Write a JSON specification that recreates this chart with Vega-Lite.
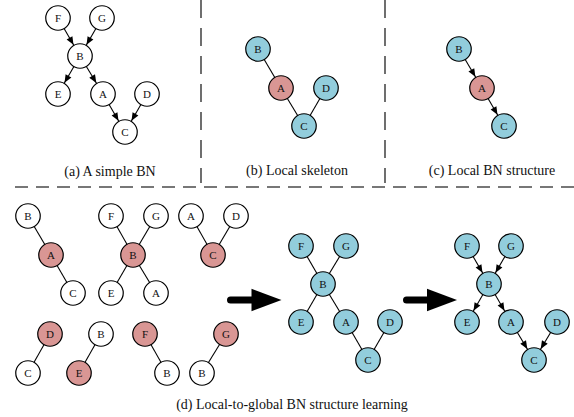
{
  "$schema": "https://vega.github.io/schema/vega-lite/v6.json",
  "width": 574,
  "height": 417,
  "padding": 0,
  "autosize": {"type": "none"},
  "background": "white",
  "config": {"view": {"stroke": null}},
  "datasets": {
    "nodes": [
      {"label": "F", "x": 58, "y": 18, "role": "plain"},
      {"label": "G", "x": 102, "y": 18, "role": "plain"},
      {"label": "B", "x": 80, "y": 56, "role": "plain"},
      {"label": "E", "x": 58, "y": 94, "role": "plain"},
      {"label": "A", "x": 103, "y": 94, "role": "plain"},
      {"label": "D", "x": 147, "y": 94, "role": "plain"},
      {"label": "C", "x": 125, "y": 132, "role": "plain"},
      {"label": "B", "x": 258, "y": 49, "role": "learned"},
      {"label": "A", "x": 281, "y": 88, "role": "target"},
      {"label": "D", "x": 326, "y": 88, "role": "learned"},
      {"label": "C", "x": 304, "y": 126, "role": "learned"},
      {"label": "B", "x": 459, "y": 49, "role": "learned"},
      {"label": "A", "x": 482, "y": 88, "role": "target"},
      {"label": "C", "x": 504, "y": 126, "role": "learned"},
      {"label": "B", "x": 28, "y": 216, "role": "plain"},
      {"label": "A", "x": 51, "y": 255, "role": "target"},
      {"label": "C", "x": 73, "y": 293, "role": "plain"},
      {"label": "F", "x": 111, "y": 216, "role": "plain"},
      {"label": "G", "x": 156, "y": 216, "role": "plain"},
      {"label": "B", "x": 133, "y": 255, "role": "target"},
      {"label": "E", "x": 111, "y": 293, "role": "plain"},
      {"label": "A", "x": 156, "y": 293, "role": "plain"},
      {"label": "A", "x": 191, "y": 216, "role": "plain"},
      {"label": "D", "x": 236, "y": 216, "role": "plain"},
      {"label": "C", "x": 213, "y": 255, "role": "target"},
      {"label": "D", "x": 50, "y": 334, "role": "target"},
      {"label": "C", "x": 28, "y": 373, "role": "plain"},
      {"label": "B", "x": 101, "y": 334, "role": "plain"},
      {"label": "E", "x": 79, "y": 373, "role": "target"},
      {"label": "F", "x": 145, "y": 334, "role": "target"},
      {"label": "B", "x": 167, "y": 373, "role": "plain"},
      {"label": "G", "x": 226, "y": 334, "role": "target"},
      {"label": "B", "x": 202, "y": 373, "role": "plain"},
      {"label": "F", "x": 301, "y": 246, "role": "learned"},
      {"label": "G", "x": 346, "y": 246, "role": "learned"},
      {"label": "B", "x": 323, "y": 284, "role": "learned"},
      {"label": "E", "x": 301, "y": 322, "role": "learned"},
      {"label": "A", "x": 346, "y": 322, "role": "learned"},
      {"label": "D", "x": 390, "y": 322, "role": "learned"},
      {"label": "C", "x": 368, "y": 360, "role": "learned"},
      {"label": "F", "x": 467, "y": 246, "role": "learned"},
      {"label": "G", "x": 511, "y": 246, "role": "learned"},
      {"label": "B", "x": 489, "y": 284, "role": "learned"},
      {"label": "E", "x": 467, "y": 322, "role": "learned"},
      {"label": "A", "x": 511, "y": 322, "role": "learned"},
      {"label": "D", "x": 557, "y": 322, "role": "learned"},
      {"label": "C", "x": 534, "y": 360, "role": "learned"}
    ],
    "edges": [
      {"x": 58, "y": 18, "x2": 80, "y2": 56},
      {"x": 102, "y": 18, "x2": 80, "y2": 56},
      {"x": 80, "y": 56, "x2": 58, "y2": 94},
      {"x": 80, "y": 56, "x2": 103, "y2": 94},
      {"x": 103, "y": 94, "x2": 125, "y2": 132},
      {"x": 147, "y": 94, "x2": 125, "y2": 132},
      {"x": 258, "y": 49, "x2": 281, "y2": 88},
      {"x": 281, "y": 88, "x2": 304, "y2": 126},
      {"x": 326, "y": 88, "x2": 304, "y2": 126},
      {"x": 459, "y": 49, "x2": 482, "y2": 88},
      {"x": 482, "y": 88, "x2": 504, "y2": 126},
      {"x": 28, "y": 216, "x2": 51, "y2": 255},
      {"x": 51, "y": 255, "x2": 73, "y2": 293},
      {"x": 111, "y": 216, "x2": 133, "y2": 255},
      {"x": 156, "y": 216, "x2": 133, "y2": 255},
      {"x": 133, "y": 255, "x2": 111, "y2": 293},
      {"x": 133, "y": 255, "x2": 156, "y2": 293},
      {"x": 191, "y": 216, "x2": 213, "y2": 255},
      {"x": 236, "y": 216, "x2": 213, "y2": 255},
      {"x": 50, "y": 334, "x2": 28, "y2": 373},
      {"x": 101, "y": 334, "x2": 79, "y2": 373},
      {"x": 145, "y": 334, "x2": 167, "y2": 373},
      {"x": 226, "y": 334, "x2": 202, "y2": 373},
      {"x": 301, "y": 246, "x2": 323, "y2": 284},
      {"x": 346, "y": 246, "x2": 323, "y2": 284},
      {"x": 323, "y": 284, "x2": 301, "y2": 322},
      {"x": 323, "y": 284, "x2": 346, "y2": 322},
      {"x": 346, "y": 322, "x2": 368, "y2": 360},
      {"x": 390, "y": 322, "x2": 368, "y2": 360},
      {"x": 467, "y": 246, "x2": 489, "y2": 284},
      {"x": 511, "y": 246, "x2": 489, "y2": 284},
      {"x": 489, "y": 284, "x2": 467, "y2": 322},
      {"x": 489, "y": 284, "x2": 511, "y2": 322},
      {"x": 511, "y": 322, "x2": 534, "y2": 360},
      {"x": 557, "y": 322, "x2": 534, "y2": 360}
    ],
    "heads": [
      {"x": 73.5, "y": 44.8, "angle": 150.1},
      {"x": 86.5, "y": 44.8, "angle": 209.9},
      {"x": 64.5, "y": 82.8, "angle": 209.9},
      {"x": 96.3, "y": 82.9, "angle": 148.8},
      {"x": 118.5, "y": 120.8, "angle": 150.1},
      {"x": 131.5, "y": 120.8, "angle": 209.9},
      {"x": 475.4, "y": 76.8, "angle": 149.5},
      {"x": 497.5, "y": 114.8, "angle": 150.1},
      {"x": 482.5, "y": 272.8, "angle": 150.1},
      {"x": 495.5, "y": 272.8, "angle": 209.9},
      {"x": 473.5, "y": 310.8, "angle": 209.9},
      {"x": 504.5, "y": 310.8, "angle": 150.1},
      {"x": 527.3, "y": 348.9, "angle": 148.8},
      {"x": 540.7, "y": 348.9, "angle": 211.2}
    ],
    "vsep": [
      {"x": 201, "y": 0, "y2": 183},
      {"x": 385, "y": 0, "y2": 183}
    ],
    "hsep": [
      {"x": 15, "x2": 574, "y": 187}
    ],
    "shafts": [
      {"x": 230.5, "x2": 254, "y": 300},
      {"x": 406.5, "x2": 430, "y": 300}
    ],
    "bigheads": [
      {"x": 266.5, "y": 300},
      {"x": 442, "y": 300}
    ],
    "captions": [
      {"text": "(a) A simple BN", "x": 110, "y": 172},
      {"text": "(b) Local skeleton", "x": 297, "y": 171},
      {"text": "(c) Local BN structure", "x": 492, "y": 171},
      {"text": "(d) Local-to-global BN structure learning", "x": 292, "y": 405}
    ]
  },
  "layer": [
    {
      "data": {"name": "vsep"},
      "mark": {"type": "rule", "color": "#222222", "strokeWidth": 1.3, "strokeDash": [18, 10]},
      "encoding": {
        "x": {"field": "x", "type": "quantitative", "axis": null, "scale": {"domain": [0, 574], "nice": false, "zero": false}},
        "y": {"field": "y", "type": "quantitative", "axis": null, "scale": {"domain": [0, 417], "reverse": true, "nice": false, "zero": false}},
        "y2": {"field": "y2"}
      }
    },
    {
      "data": {"name": "hsep"},
      "mark": {"type": "rule", "color": "#777777", "strokeWidth": 2, "strokeDash": [13, 8]},
      "encoding": {
        "x": {"field": "x", "type": "quantitative", "axis": null, "scale": {"domain": [0, 574], "nice": false, "zero": false}},
        "x2": {"field": "x2"},
        "y": {"field": "y", "type": "quantitative", "axis": null, "scale": {"domain": [0, 417], "reverse": true, "nice": false, "zero": false}}
      }
    },
    {
      "data": {"name": "edges"},
      "mark": {"type": "rule", "color": "black", "strokeWidth": 1.1},
      "encoding": {
        "x": {"field": "x", "type": "quantitative", "axis": null, "scale": {"domain": [0, 574], "nice": false, "zero": false}},
        "x2": {"field": "x2"},
        "y": {"field": "y", "type": "quantitative", "axis": null, "scale": {"domain": [0, 417], "reverse": true, "nice": false, "zero": false}},
        "y2": {"field": "y2"}
      }
    },
    {
      "data": {"name": "heads"},
      "mark": {"type": "point", "shape": "M0,0 L-0.42,1 L0.42,1 Z", "filled": true, "color": "black", "opacity": 1, "size": 256, "strokeWidth": 0},
      "encoding": {
        "x": {"field": "x", "type": "quantitative", "axis": null, "scale": {"domain": [0, 574], "nice": false, "zero": false}},
        "y": {"field": "y", "type": "quantitative", "axis": null, "scale": {"domain": [0, 417], "reverse": true, "nice": false, "zero": false}},
        "angle": {"field": "angle", "type": "quantitative", "scale": null}
      }
    },
    {
      "data": {"name": "nodes"},
      "mark": {"type": "point", "shape": "circle", "filled": false, "size": 600, "stroke": "black", "strokeWidth": 1.2, "opacity": 1, "fillOpacity": 1},
      "encoding": {
        "x": {"field": "x", "type": "quantitative", "axis": null, "scale": {"domain": [0, 574], "nice": false, "zero": false}},
        "y": {"field": "y", "type": "quantitative", "axis": null, "scale": {"domain": [0, 417], "reverse": true, "nice": false, "zero": false}},
        "fill": {"field": "role", "type": "nominal", "legend": null, "scale": {"domain": ["plain", "target", "learned"], "range": ["#ffffff", "#D99694", "#92CDDC"]}}
      }
    },
    {
      "data": {"name": "nodes"},
      "mark": {"type": "text", "font": "'Liberation Serif', 'DejaVu Serif', serif", "fontSize": 11, "align": "center", "baseline": "middle", "dy": 0.5, "color": "#111111"},
      "encoding": {
        "x": {"field": "x", "type": "quantitative", "axis": null, "scale": {"domain": [0, 574], "nice": false, "zero": false}},
        "y": {"field": "y", "type": "quantitative", "axis": null, "scale": {"domain": [0, 417], "reverse": true, "nice": false, "zero": false}},
        "text": {"field": "label"}
      }
    },
    {
      "data": {"name": "shafts"},
      "mark": {"type": "rule", "color": "black", "strokeWidth": 7, "strokeCap": "round"},
      "encoding": {
        "x": {"field": "x", "type": "quantitative", "axis": null, "scale": {"domain": [0, 574], "nice": false, "zero": false}},
        "x2": {"field": "x2"},
        "y": {"field": "y", "type": "quantitative", "axis": null, "scale": {"domain": [0, 417], "reverse": true, "nice": false, "zero": false}}
      }
    },
    {
      "data": {"name": "bigheads"},
      "mark": {"type": "point", "shape": "M-1,-0.75 L1,0 L-1,0.75 Z", "filled": true, "color": "black", "opacity": 1, "size": 900, "strokeWidth": 0},
      "encoding": {
        "x": {"field": "x", "type": "quantitative", "axis": null, "scale": {"domain": [0, 574], "nice": false, "zero": false}},
        "y": {"field": "y", "type": "quantitative", "axis": null, "scale": {"domain": [0, 417], "reverse": true, "nice": false, "zero": false}}
      }
    },
    {
      "data": {"name": "captions"},
      "mark": {"type": "text", "font": "'Liberation Serif', 'DejaVu Serif', serif", "fontSize": 14, "align": "center", "baseline": "middle", "color": "#111111"},
      "encoding": {
        "x": {"field": "x", "type": "quantitative", "axis": null, "scale": {"domain": [0, 574], "nice": false, "zero": false}},
        "y": {"field": "y", "type": "quantitative", "axis": null, "scale": {"domain": [0, 417], "reverse": true, "nice": false, "zero": false}},
        "text": {"field": "text"}
      }
    }
  ]
}
